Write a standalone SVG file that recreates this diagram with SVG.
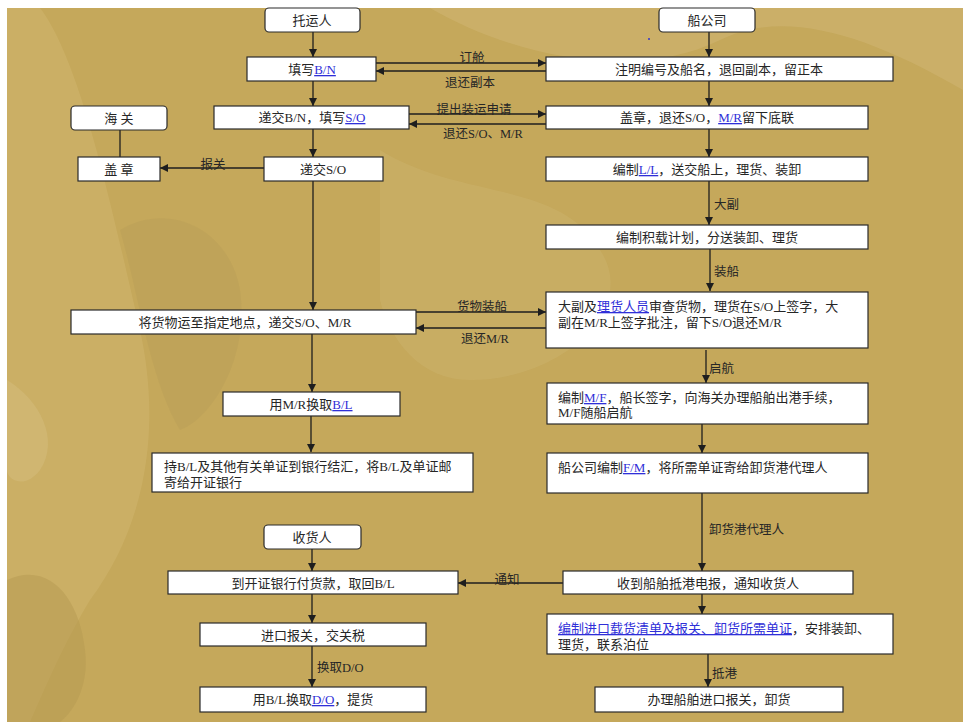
<svg xmlns="http://www.w3.org/2000/svg" width="963" height="722" viewBox="0 0 963 722">
<style>
.bx{fill:#fff;stroke:#2a2a2a;stroke-width:1.2}
.t{font-family:"Liberation Serif","Noto Sans CJK SC",serif;font-size:13px;fill:#262626}
.c{text-anchor:middle}
.lk{fill:#2f2fd8;text-decoration:underline}
.lbl{font-family:"Liberation Serif","Noto Sans CJK SC",serif;font-size:12.5px;fill:#262626}
.ln{stroke:#1e1e1e;stroke-width:1.3;fill:none}
</style>
<defs>
<marker id="ah" markerWidth="8" markerHeight="8" refX="8" refY="4" orient="auto" markerUnits="userSpaceOnUse">
<path d="M0,0 L8,4 L0,8 z" fill="#1e1e1e"/>
</marker>
</defs>
<rect x="0" y="0" width="963" height="722" fill="#fff"/>
<g id="background">
<rect x="7" y="8" width="956" height="714" fill="#C5A85B"/>
<path d="M7,8 L40,8 C80,60 110,200 140,330 C160,420 150,520 90,600 C60,650 40,700 30,722 L7,722 Z" fill="#D2B772" opacity="0.45"/>
<path d="M7,580 C50,560 80,600 85,650 C90,690 70,715 60,722 L7,722 Z" fill="#B59A52" opacity="0.5"/>
<path d="M120,230 C170,200 230,230 240,290 C250,360 210,420 180,430 C150,380 140,300 120,230 Z" fill="#B59A55" opacity="0.35"/>
<path d="M430,8 C520,60 640,80 720,40 C780,10 860,30 963,90 L963,8 Z" fill="#D6BE80" opacity="0.35"/>
<path d="M380,150 C460,200 560,180 600,250 C640,310 560,380 470,380 C420,380 390,340 380,300 Z" fill="#D1B878" opacity="0.3"/>
<path d="M7,380 C40,400 60,440 40,470 C25,490 7,480 7,470 Z" fill="#D8C084" opacity="0.4"/>
<circle cx="649" cy="39" r="1" fill="#3333cc"/>
</g>
<g id="connectors">
<line class="ln" x1="313" y1="32" x2="313" y2="57" marker-end="url(#ah)"/>
<line class="ln" x1="313" y1="81" x2="313" y2="106" marker-end="url(#ah)"/>
<line class="ln" x1="313" y1="129" x2="313" y2="157" marker-end="url(#ah)"/>
<line class="ln" x1="313" y1="181" x2="313" y2="310" marker-end="url(#ah)"/>
<line class="ln" x1="312" y1="334" x2="312" y2="392" marker-end="url(#ah)"/>
<line class="ln" x1="311" y1="416" x2="311" y2="452" marker-end="url(#ah)"/>
<line class="ln" x1="120" y1="130" x2="120" y2="157"/>
<line class="ln" x1="264" y1="168" x2="160" y2="168" marker-end="url(#ah)"/>
<line class="ln" x1="709" y1="32" x2="709" y2="57" marker-end="url(#ah)"/>
<line class="ln" x1="709" y1="81" x2="709" y2="106" marker-end="url(#ah)"/>
<line class="ln" x1="709" y1="129" x2="709" y2="157" marker-end="url(#ah)"/>
<line class="ln" x1="709" y1="181" x2="709" y2="225" marker-end="url(#ah)"/>
<line class="ln" x1="710" y1="249" x2="710" y2="291" marker-end="url(#ah)"/>
<line class="ln" x1="706" y1="350" x2="706" y2="383" marker-end="url(#ah)"/>
<line class="ln" x1="702" y1="424" x2="702" y2="453" marker-end="url(#ah)"/>
<line class="ln" x1="702" y1="493" x2="702" y2="571" marker-end="url(#ah)"/>
<line class="ln" x1="702" y1="594" x2="702" y2="614" marker-end="url(#ah)"/>
<line class="ln" x1="708" y1="654" x2="708" y2="687" marker-end="url(#ah)"/>
<line class="ln" x1="312" y1="549" x2="312" y2="571" marker-end="url(#ah)"/>
<line class="ln" x1="312" y1="594" x2="312" y2="623" marker-end="url(#ah)"/>
<line class="ln" x1="312" y1="646" x2="312" y2="687" marker-end="url(#ah)"/>
<line class="ln" x1="376" y1="63" x2="546" y2="63" marker-end="url(#ah)"/>
<line class="ln" x1="546" y1="71" x2="376" y2="71" marker-end="url(#ah)"/>
<line class="ln" x1="409" y1="114" x2="546" y2="114" marker-end="url(#ah)"/>
<line class="ln" x1="546" y1="124" x2="409" y2="124" marker-end="url(#ah)"/>
<line class="ln" x1="416" y1="312" x2="546" y2="312" marker-end="url(#ah)"/>
<line class="ln" x1="546" y1="328" x2="416" y2="328" marker-end="url(#ah)"/>
<line class="ln" x1="563" y1="583" x2="458" y2="583" marker-end="url(#ah)"/>
<text class="lbl c" x="472" y="62">订舱</text>
<text class="lbl c" x="470" y="87">退还副本</text>
<text class="lbl c" x="474" y="114">提出装运申请</text>
<text class="lbl c" x="483" y="138">退还S/O、M/R</text>
<text class="lbl c" x="482" y="311">货物装船</text>
<text class="lbl c" x="485" y="343">退还M/R</text>
<text class="lbl c" x="213" y="169">报关</text>
<text class="lbl c" x="507" y="584">通知</text>
<text class="lbl" x="714" y="209">大副</text>
<text class="lbl" x="714" y="276">装船</text>
<text class="lbl" x="709" y="373">启航</text>
<text class="lbl" x="709" y="534">卸货港代理人</text>
<text class="lbl" x="712" y="678">抵港</text>
<text class="lbl" x="317" y="672">换取D/O</text>
</g>
<g id="n-shipper"><rect class="bx" x="265" y="8" width="95" height="24" rx="4"/><text class="t c" x="312" y="25">托运人</text></g>
<g id="n-bn"><rect class="bx" x="247" y="57" width="129" height="24"/><text class="t c" x="312" y="74">填写<tspan class="lk">B/N</tspan></text></g>
<g id="n-so"><rect class="bx" x="214" y="106" width="195" height="23"/><text class="t c" x="312" y="122">递交B/N，填写<tspan class="lk">S/O</tspan></text></g>
<g id="n-customs"><rect class="bx" x="71" y="106" width="96" height="24" rx="4"/><text class="t c" x="119" y="123">海 关</text></g>
<g id="n-stamp"><rect class="bx" x="78" y="157" width="82" height="24"/><text class="t c" x="119" y="174">盖 章</text></g>
<g id="n-submitso"><rect class="bx" x="264" y="157" width="119" height="24"/><text class="t c" x="323" y="174">递交S/O</text></g>
<g id="n-deliver"><rect class="bx" x="71" y="310" width="345" height="24"/><text class="t c" x="245" y="327">将货物运至指定地点，递交S/O、M/R</text></g>
<g id="n-bl"><rect class="bx" x="223" y="392" width="177" height="24"/><text class="t c" x="311" y="409">用M/R换取<tspan class="lk">B/L</tspan></text></g>
<g id="n-bank"><rect class="bx" x="152" y="453" width="321" height="39"/><text class="t" x="164" y="471">持B/L及其他有关单证到银行结汇，将B/L及单证邮</text><text class="t" x="164" y="487">寄给开证银行</text></g>
<g id="n-carrier"><rect class="bx" x="659" y="8" width="96" height="24" rx="4"/><text class="t c" x="707" y="25">船公司</text></g>
<g id="n-note"><rect class="bx" x="546" y="57" width="347" height="24"/><text class="t c" x="719" y="74">注明编号及船名，退回副本，留正本</text></g>
<g id="n-seal"><rect class="bx" x="546" y="106" width="322" height="23"/><text class="t c" x="707" y="122">盖章，退还S/O，<tspan class="lk">M/R</tspan>留下底联</text></g>
<g id="n-ll"><rect class="bx" x="546" y="157" width="322" height="24"/><text class="t c" x="707" y="174">编制<tspan class="lk">L/L</tspan>，送交船上，理货、装卸</text></g>
<g id="n-plan"><rect class="bx" x="546" y="225" width="322" height="24"/><text class="t c" x="707" y="242">编制积载计划，分送装卸、理货</text></g>
<g id="n-check"><rect class="bx" x="546" y="292" width="322" height="56"/><text class="t" x="558" y="311">大副及<tspan class="lk">理货人员</tspan>审查货物，理货在S/O上签字，大</text><text class="t" x="558" y="327">副在M/R上签字批注，留下S/O退还M/R</text></g>
<g id="n-mf"><rect class="bx" x="547" y="383" width="321" height="41"/><text class="t" x="558" y="402">编制<tspan class="lk">M/F</tspan>，船长签字，向海关办理船舶出港手续，</text><text class="t" x="558" y="417">M/F随船启航</text></g>
<g id="n-fm"><rect class="bx" x="547" y="453" width="321" height="40"/><text class="t" x="558" y="472">船公司编制<tspan class="lk">F/M</tspan>，将所需单证寄给卸货港代理人</text></g>
<g id="n-arrive"><rect class="bx" x="563" y="571" width="290" height="23"/><text class="t c" x="708" y="588">收到船舶抵港电报，通知收货人</text></g>
<g id="n-import"><rect class="bx" x="547" y="614" width="346" height="40"/><text class="t" x="558" y="633"><tspan class="lk">编制进口载货清单及报关、卸货所需单证</tspan>，安排装卸、</text><text class="t" x="558" y="649">理货，联系泊位</text></g>
<g id="n-unload"><rect class="bx" x="595" y="687" width="248" height="25"/><text class="t c" x="719" y="704">办理船舶进口报关，卸货</text></g>
<g id="n-consignee"><rect class="bx" x="264" y="525" width="97" height="24" rx="4"/><text class="t c" x="312" y="542">收货人</text></g>
<g id="n-pay"><rect class="bx" x="168" y="571" width="290" height="23"/><text class="t c" x="313" y="588">到开证银行付货款，取回B/L</text></g>
<g id="n-declare"><rect class="bx" x="200" y="623" width="226" height="23"/><text class="t c" x="313" y="640">进口报关，交关税</text></g>
<g id="n-do"><rect class="bx" x="200" y="687" width="226" height="25"/><text class="t c" x="313" y="704">用B/L换取<tspan class="lk">D/O</tspan>，提货</text></g>
</svg>
